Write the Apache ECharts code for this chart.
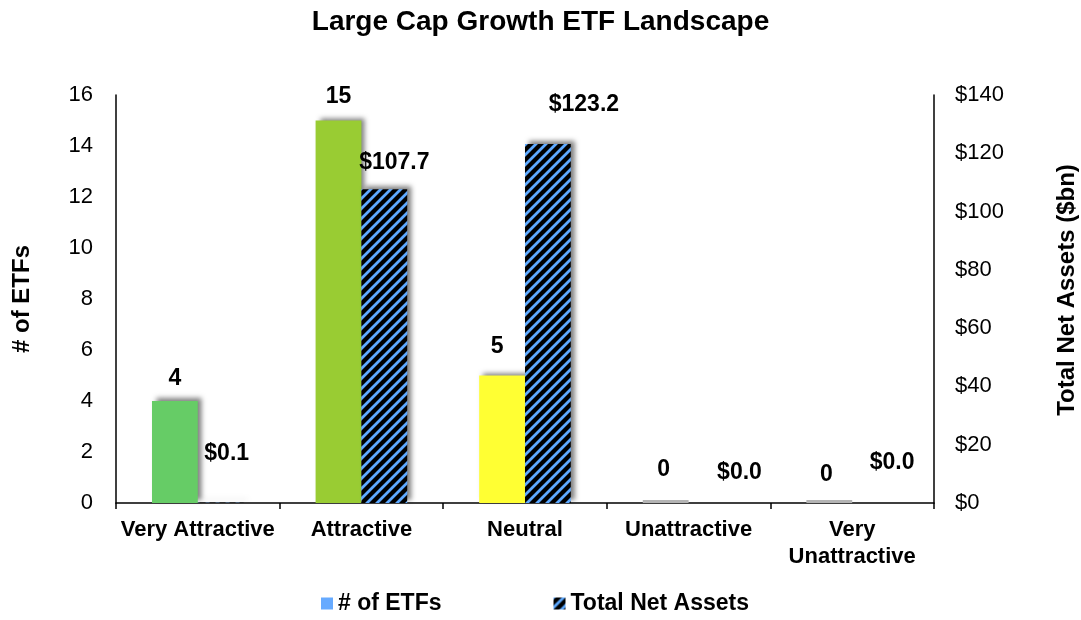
<!DOCTYPE html>
<html>
<head>
<meta charset="utf-8">
<script src="https://cdn.jsdelivr.net/npm/echarts@6/dist/echarts.min.js"></script>
<style>
  html, body { margin: 0; padding: 0; background: #fff; }
  #chart { width: 1081px; height: 620px; }
</style>
</head>
<body>
<div id="chart"></div>
<script>
const categories = ["Very Attractive", "Attractive", "Neutral", "Unattractive", "Very Unattractive"]
const etfCounts = [4, 15, 5, 0, 0]
const netAssets = [0.1, 107.7, 123.2, 0.0, 0.0]
const leftTicks = { min: 0, max: 16, interval: 2 }
const rightTicks = { min: 0, max: 140, interval: 20 }

// per-bar fill for the ETF count bars (zero bars show as a gray sliver)
const etfColors = ["#66cc66", "#99cc33", "#ffff33", "#b4b4b4", "#b4b4b4"]
// hand-placed label nudges, like the original
const etfLabelNudge = [[0, -6], [0, -7], [-5, -12], [-2, -14], [-3, -9]]
const assetLabelNudge = [[6, -33], [10, -10], [36, -23], [28, -14], [17, -24]]

const font = "Arial, 'Liberation Sans', sans-serif"

// black/blue diagonal hatch
function makeHatch() {
  const c = document.createElement("canvas")
  const s = 10
  c.width = s
  c.height = s
  const ctx = c.getContext("2d")
  ctx.fillStyle = "#000"
  ctx.fillRect(0, 0, s, s)
  ctx.strokeStyle = "#5ea9ff"
  ctx.lineWidth = 2.8
  ctx.beginPath()
  ctx.moveTo(-1, s + 1); ctx.lineTo(s + 1, -1)
  ctx.moveTo(-1, 1); ctx.lineTo(1, -1)
  ctx.moveTo(s - 1, s + 1); ctx.lineTo(s + 1, s - 1)
  ctx.stroke()
  return c
}
const hatch = { image: makeHatch(), repeat: "repeat" }

const chart = echarts.init(document.getElementById("chart"))

const barShadow = {
  shadowColor: "rgba(0, 0, 0, 0.5)",
  shadowBlur: 5,
  shadowOffsetX: 4,
  shadowOffsetY: -3,
}

const labelStyle = {
  show: true,
  position: "top",
  distance: 5,
  color: "#000",
  fontFamily: font,
  fontWeight: "bold",
  fontSize: 23,
}

const option = {
  backgroundColor: "#fff",
  animation: false,
  title: {
    text: "Large Cap Growth ETF Landscape",
    left: "center",
    top: 3,
    textStyle: { fontFamily: font, fontWeight: "bold", fontSize: 28, color: "#000" },
  },
  legend: {
    bottom: 0,
    left: 316,
    icon: "rect",
    itemWidth: 12,
    itemHeight: 12,
    itemGap: 112,
    textStyle: { fontFamily: font, fontWeight: "bold", fontSize: 23, color: "#000" },
    itemStyle: { shadowColor: "transparent", shadowBlur: 0 },
    data: ["# of ETFs", "Total Net Assets"],
  },
  grid: { left: 116, right: 147, top: 95, bottom: 117, outerBoundsMode: "none" },
  xAxis: {
    type: "category",
    data: categories,
    axisLine: { lineStyle: { color: "#000", width: 1.5 } },
    axisTick: { show: true, interval: 0, length: 6, lineStyle: { color: "#000", width: 1.5 } },
    axisLabel: {
      interval: 0,
      margin: 13,
      color: "#000",
      fontFamily: font,
      fontWeight: "bold",
      fontSize: 22,
      lineHeight: 27,
      formatter: (v) => (v === "Very Unattractive" ? "Very\nUnattractive" : v),
    },
  },
  yAxis: [
    {
      type: "value",
      ...leftTicks,
      name: "# of ETFs",
      nameLocation: "middle",
      nameRotate: 90,
      nameGap: 82,
      nameTextStyle: { fontFamily: font, fontWeight: "bold", fontSize: 24, color: "#000" },
      axisLine: { show: true, lineStyle: { color: "#000", width: 1.5 } },
      axisTick: { show: false },
      splitLine: { show: false },
      axisLabel: { margin: 23, color: "#000", fontFamily: font, fontSize: 22 },
    },
    {
      type: "value",
      ...rightTicks,
      name: "Total Net Assets ($bn)",
      nameLocation: "middle",
      nameRotate: 90,
      nameGap: 121,
      nameTextStyle: { fontFamily: font, fontWeight: "bold", fontSize: 24, color: "#000", padding: [0, 0, 0, 18] },
      axisLine: { show: true, lineStyle: { color: "#000", width: 1.5 } },
      axisTick: { show: false },
      splitLine: { show: false },
      axisLabel: { margin: 21, color: "#000", fontFamily: font, fontSize: 22, formatter: (v) => "$" + v },
    },
  ],
  series: [
    {
      name: "# of ETFs",
      type: "bar",
      yAxisIndex: 0,
      barGap: "0%",
      barCategoryGap: "44%",
      barMinHeight: 3,
      itemStyle: { color: "#66aaff", ...barShadow },
      label: labelStyle,
      data: etfCounts.map((v, i) => ({
        value: v,
        itemStyle: v === 0
          ? { color: etfColors[i], shadowColor: "transparent" }
          : { color: etfColors[i] },
        label: { offset: etfLabelNudge[i] },
      })),
    },
    {
      name: "Total Net Assets",
      type: "bar",
      yAxisIndex: 1,
      itemStyle: { color: hatch, ...barShadow },
      label: { ...labelStyle, formatter: (p) => "$" + p.value.toFixed(1) },
      data: netAssets.map((v, i) => ({
        value: v,
        label: { offset: assetLabelNudge[i] },
      })),
    },
  ],
}

chart.setOption(option)
</script>
</body>
</html>
